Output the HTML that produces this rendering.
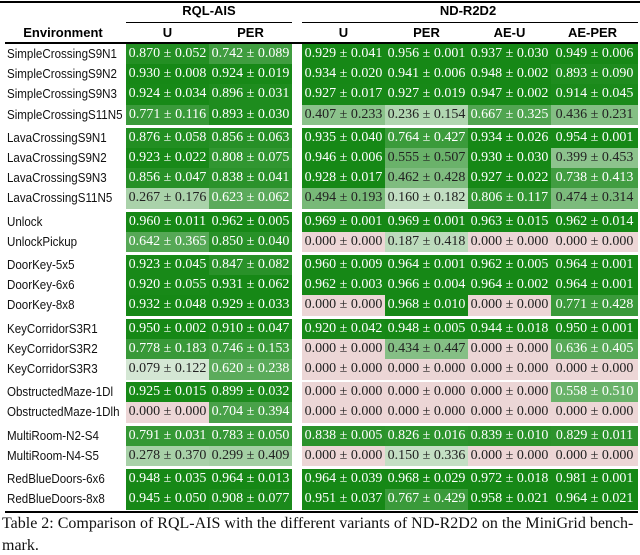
<!DOCTYPE html>
<html><head><meta charset="utf-8"><style>
body{margin:0;width:640px;height:540px;overflow:hidden;background:#fff;position:relative;font-family:"Liberation Sans",sans-serif}
.rule{position:absolute;background:#000}
.h{position:absolute;font-weight:bold;font-size:13px;text-align:center;line-height:20px}
.env{position:absolute;left:7px;font-size:13px;line-height:20px;white-space:nowrap;color:#111;transform:scaleX(0.89);transform-origin:0 50%}
.cell{position:absolute;font-family:"Liberation Serif",serif;font-size:14px;text-align:center;white-space:nowrap}
.cap{position:absolute;left:2px;font-family:"Liberation Serif",serif;font-size:16px;white-space:nowrap;color:#111}
</style></head><body>
<div class="rule" style="left:0;top:1px;width:640px;height:2px"></div>
<div class="h" style="left:126px;top:1px;width:166px">RQL-AIS</div>
<div class="h" style="left:302px;top:1px;width:332px">ND-R2D2</div>
<div class="rule" style="left:126px;top:22px;width:166px;height:1px"></div>
<div class="rule" style="left:302px;top:22px;width:336px;height:1px"></div>
<div class="h" style="left:0;top:23px;width:126px">Environment</div>
<div class="h" style="left:126px;top:23px;width:83px">U</div>
<div class="h" style="left:209px;top:23px;width:83px">PER</div>
<div class="h" style="left:302px;top:23px;width:83px">U</div>
<div class="h" style="left:385px;top:23px;width:83px">PER</div>
<div class="h" style="left:468px;top:23px;width:83px">AE-U</div>
<div class="h" style="left:551px;top:23px;width:83px">AE-PER</div>
<div class="rule" style="left:5px;top:42px;width:633px;height:2px"></div>
<div id="body"></div>
<div class="rule" style="left:5px;top:511px;width:633px;height:2px"></div>
<div class="cap" style="top:515px">Table 2: Comparison of RQL-AIS with the different variants of ND-R2D2 on the MiniGrid bench-</div>
<div class="cap" style="top:537px">mark.</div>
<script>
const envs=["SimpleCrossingS9N1","SimpleCrossingS9N2","SimpleCrossingS9N3","SimpleCrossingS11N5","LavaCrossingS9N1","LavaCrossingS9N2","LavaCrossingS9N3","LavaCrossingS11N5","Unlock","UnlockPickup","DoorKey-5x5","DoorKey-6x6","DoorKey-8x8","KeyCorridorS3R1","KeyCorridorS3R2","KeyCorridorS3R3","ObstructedMaze-1Dl","ObstructedMaze-1Dlh","MultiRoom-N2-S4","MultiRoom-N4-S5","RedBlueDoors-6x6","RedBlueDoors-8x8"];
const groupSizes=[4,4,2,3,3,2,2,2];
const columns=["rql-u","rql-per","nd-u","nd-per","nd-ae-u","nd-ae-per"];
const means=[
[0.870,0.742,0.929,0.956,0.937,0.949],
[0.930,0.924,0.934,0.941,0.948,0.893],
[0.924,0.896,0.927,0.927,0.947,0.914],
[0.771,0.893,0.407,0.236,0.667,0.436],
[0.876,0.856,0.935,0.764,0.934,0.954],
[0.923,0.808,0.946,0.555,0.930,0.399],
[0.856,0.838,0.928,0.462,0.927,0.738],
[0.267,0.623,0.494,0.160,0.806,0.474],
[0.960,0.962,0.969,0.969,0.963,0.962],
[0.642,0.850,0.000,0.187,0.000,0.000],
[0.923,0.847,0.960,0.964,0.962,0.964],
[0.920,0.931,0.962,0.966,0.964,0.964],
[0.932,0.929,0.000,0.968,0.000,0.771],
[0.950,0.910,0.920,0.948,0.944,0.950],
[0.778,0.746,0.000,0.434,0.000,0.636],
[0.079,0.620,0.000,0.000,0.000,0.000],
[0.925,0.899,0.000,0.000,0.000,0.558],
[0.000,0.704,0.000,0.000,0.000,0.000],
[0.791,0.783,0.838,0.826,0.839,0.829],
[0.278,0.299,0.000,0.150,0.000,0.000],
[0.948,0.964,0.964,0.968,0.972,0.981],
[0.945,0.908,0.951,0.767,0.958,0.964]];
const stds=[
[0.052,0.089,0.041,0.001,0.030,0.006],
[0.008,0.019,0.020,0.006,0.002,0.090],
[0.034,0.031,0.017,0.019,0.002,0.045],
[0.116,0.030,0.233,0.154,0.325,0.231],
[0.058,0.063,0.040,0.427,0.026,0.001],
[0.022,0.075,0.006,0.507,0.030,0.453],
[0.047,0.041,0.017,0.428,0.022,0.413],
[0.176,0.062,0.193,0.182,0.117,0.314],
[0.011,0.005,0.001,0.001,0.015,0.014],
[0.365,0.040,0.000,0.418,0.000,0.000],
[0.045,0.082,0.009,0.001,0.005,0.001],
[0.055,0.062,0.003,0.004,0.002,0.001],
[0.048,0.033,0.000,0.010,0.000,0.428],
[0.002,0.047,0.042,0.005,0.018,0.001],
[0.183,0.153,0.000,0.447,0.000,0.405],
[0.122,0.238,0.000,0.000,0.000,0.000],
[0.015,0.032,0.000,0.000,0.000,0.510],
[0.000,0.394,0.000,0.000,0.000,0.000],
[0.031,0.050,0.005,0.016,0.010,0.011],
[0.370,0.409,0.000,0.336,0.000,0.000],
[0.035,0.013,0.039,0.029,0.018,0.001],
[0.050,0.077,0.037,0.429,0.021,0.021]];
const colX=[126,209,302,385,468,551], colW=83, rowH=20.2, gap=3, top0=44;
function color(v){
  if(v===0) return "rgb(236,214,214)";
  const t=Math.min(1,v/0.93);
  const a=[230,240,230], b=[22,136,22];
  return "rgb("+a.map((c,i)=>Math.round(c+(b[i]-c)*t)).join(",")+")";
}
const body=document.getElementById('body');
let r=0,y=top0;
groupSizes.forEach(function(n){
  for(let k=0;k<n;k++,r++){
    const e=document.createElement('div');
    e.className='env';
    e.style.top=y+'px';
    e.textContent=envs[r];
    
    
    body.appendChild(e);
    for(let c=0;c<6;c++){
      const d=document.createElement('div');
      d.className='cell';
      const v=means[r][c];
      d.style.left=colX[c]+'px';
      d.style.top=y+'px';
      d.style.width=(c===5?colW+4:colW)+'px';
      d.style.height=(rowH+0.5)+'px';
      d.style.lineHeight=rowH+'px';
      d.style.background=color(v);
      d.style.color=v>0.556?'#fff':'#222';
      d.textContent=v.toFixed(3)+' \u00b1 '+stds[r][c].toFixed(3);
      
      
      body.appendChild(d);
    }
    y+=rowH;
  }
  y+=gap;
});
</script>
</body></html>
